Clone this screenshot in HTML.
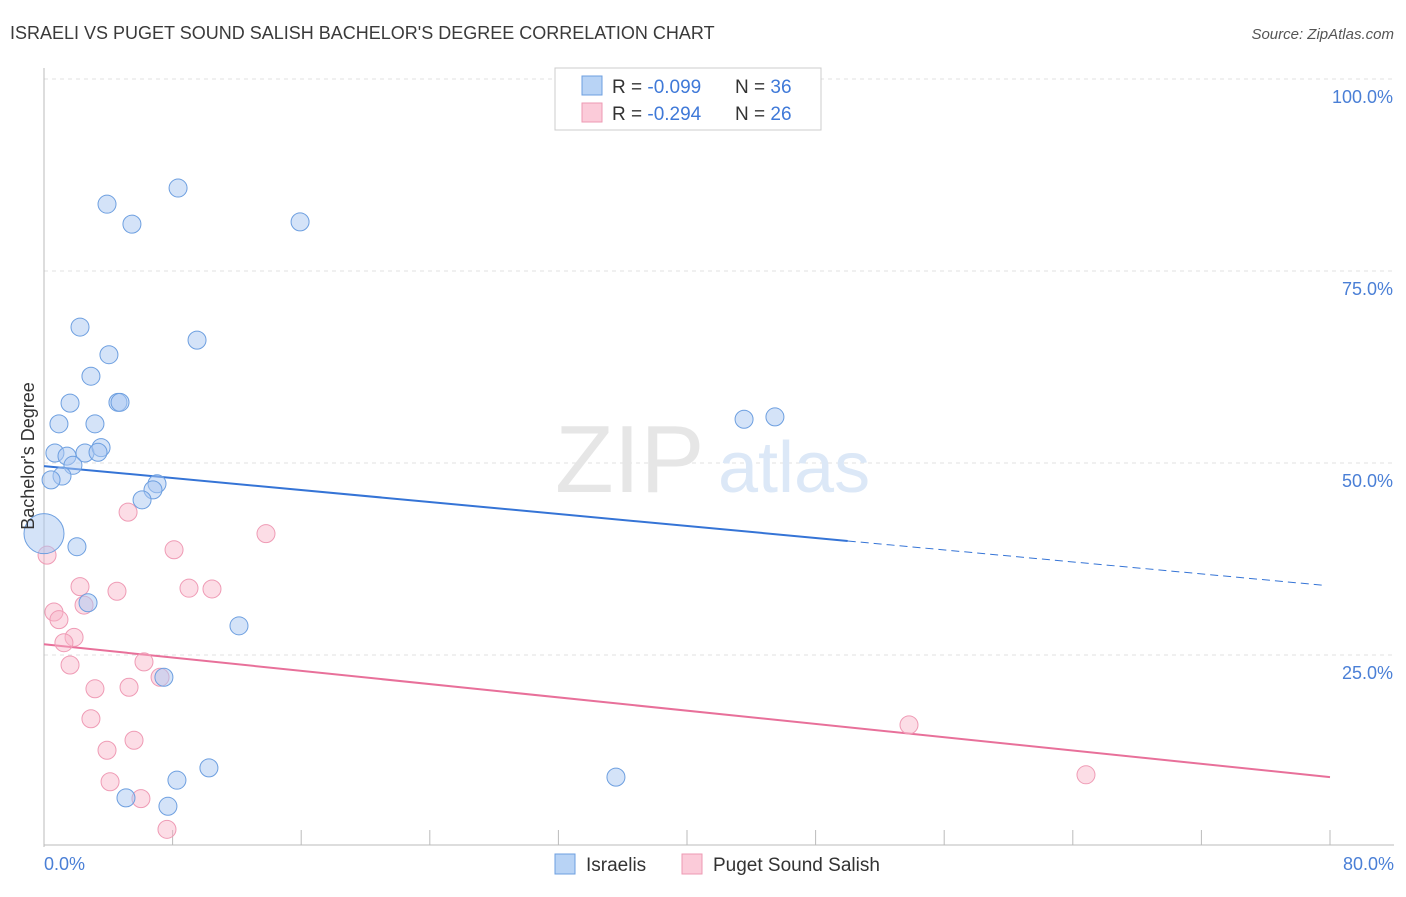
<!DOCTYPE html>
<html><head><meta charset="utf-8"><style>
body{margin:0;background:#fff;font-family:"Liberation Sans",sans-serif;}
svg text{font-family:"Liberation Sans",sans-serif;}
</style></head><body>
<svg id="chart" width="1406" height="892" viewBox="0 0 1406 892" xmlns="http://www.w3.org/2000/svg">
<text x="10" y="39" font-size="18" fill="#3a3a3a">ISRAELI VS PUGET SOUND SALISH BACHELOR'S DEGREE CORRELATION CHART</text>
<text x="1394" y="39" font-size="15" fill="#555" font-style="italic" text-anchor="end">Source: ZipAtlas.com</text>
<g id="grid"></g>
<g><text x="555" y="492" font-size="96" fill="#e6e6e6" font-family="Liberation Serif,serif">ZIP</text><text x="718" y="492" font-size="72" fill="#dce8f7">atlas</text></g>
<line x1="44" y1="68" x2="44" y2="847" stroke="#bbb"/>
<line x1="44" y1="845" x2="1394" y2="845" stroke="#bbb"/>
<g id="ticks"></g>
<g id="lines"></g>
<g id="points"></g>
<text transform="translate(34,456) rotate(-90)" font-size="18" fill="#333" text-anchor="middle">Bachelor's Degree</text>
<text x="44" y="870" font-size="18" fill="#4a7fd6">0.0%</text>
<text x="1394" y="870" font-size="18" fill="#4a7fd6" text-anchor="end">80.0%</text>
<g>
<rect x="555" y="68" width="266" height="62" fill="#fff" stroke="#ccc"/>
<rect x="582" y="76" width="20" height="19" fill="#b8d3f5" stroke="#6d9fe0"/>
<rect x="582" y="103" width="20" height="19" fill="#fbcbd9" stroke="#ee9ab3"/>
<text x="612" y="93" font-size="19" fill="#333">R = <tspan fill="#3f79d8">-0.099</tspan></text>
<text x="735" y="93" font-size="19" fill="#333">N = <tspan fill="#3f79d8">36</tspan></text>
<text x="612" y="120" font-size="19" fill="#333">R = <tspan fill="#3f79d8">-0.294</tspan></text>
<text x="735" y="120" font-size="19" fill="#333">N = <tspan fill="#3f79d8">26</tspan></text>
</g>
<g>
<rect x="555" y="854" width="20" height="20" fill="#b8d3f5" stroke="#6d9fe0"/>
<text x="586" y="871" font-size="19" fill="#333">Israelis</text>
<rect x="682" y="854" width="20" height="20" fill="#fbcbd9" stroke="#ee9ab3"/>
<text x="713" y="871" font-size="19" fill="#333">Puget Sound Salish</text>
</g>
</svg>
<script>
const yTicks=[25,50,75,100];
const yTickLabels=["25.0%","50.0%","75.0%","100.0%"];
const xTicks=[0,8,16,24,32,40,48,56,64,72,80];
const israeliX=[3.92,8.34,5.47,15.93,2.24,9.52,4.04,2.92,1.62,4.60,4.73,0.93,3.17,0.68,1.43,2.55,3.55,3.36,1.80,1.12,0.44,7.03,6.78,6.10,0,2.05,2.74,12.13,7.46,43.55,45.47,35.58,8.27,10.26,5.10,7.71];
const israeliY=[83.7,85.8,81.1,81.4,67.7,66.0,64.1,61.3,57.8,57.9,57.9,55.1,55.1,51.3,50.9,51.3,52.0,51.4,49.7,48.3,47.8,47.3,46.5,45.2,40.8,39.1,31.8,28.8,22.1,55.7,56.0,9.1,8.7,10.3,6.4,5.3];
const israeliR=[9,9,9,9,9,9,9,9,9,9,9,9,9,9,9,9,9,9,9,9,9,9,9,9,20,9,9,9,9,9,9,9,9,9,9,9];
const pugetX=[0.19,5.23,8.09,13.81,2.24,4.54,9.02,10.45,0.62,2.49,0.93,1.87,1.24,6.22,1.62,7.22,3.17,5.29,2.92,3.92,5.60,4.11,6.03,7.65,53.81,64.82];
const pugetY=[38.0,43.6,38.7,40.8,33.9,33.3,33.7,33.6,30.6,31.5,29.6,27.3,26.6,24.1,23.7,22.1,20.6,20.8,16.7,12.6,13.9,8.5,6.3,2.3,15.9,9.4];
const israeliTrend=[49.6,34.0];
const pugetTrend=[26.4,9.1];
const israeliSolidEnd=50;
const sx=v=>44+v*16.075, sy=v=>847-v*7.68;
const NS="http://www.w3.org/2000/svg";
function mk(t,a,p){const e=document.createElementNS(NS,t);for(const k in a)e.setAttribute(k,a[k]);document.getElementById(p).appendChild(e);return e;}
yTicks.forEach((t,i)=>{
 const l=mk('line',{x1:44,x2:1394,y1:sy(t),y2:sy(t),stroke:'#e0e0e0','stroke-dasharray':'4,4'},'grid');
 
 
 const tx=mk('text',{x:1393,y:sy(t)+24,'font-size':18,fill:'#4a7fd6','text-anchor':'end'},'ticks');
 tx.textContent=yTickLabels[i];
 
 
});
xTicks.forEach(t=>{
 const l=mk('line',{x1:sx(t),x2:sx(t),y1:830,y2:845,stroke:'#bbb'},'ticks');
 
 
});
const ty=(tr,x)=>tr[0]+(tr[1]-tr[0])*x/80;
let e=mk('line',{x1:sx(0),y1:sy(israeliTrend[0]),x2:sx(israeliSolidEnd),y2:sy(ty(israeliTrend,israeliSolidEnd)),stroke:'#3574d6','stroke-width':2},'lines');


e=mk('line',{x1:sx(israeliSolidEnd),y1:sy(ty(israeliTrend,israeliSolidEnd)),x2:sx(79.7),y2:sy(ty(israeliTrend,79.7)),stroke:'#3574d6','stroke-width':1,'stroke-dasharray':'8,5'},'lines');


e=mk('line',{x1:sx(0),y1:sy(pugetTrend[0]),x2:sx(80),y2:sy(pugetTrend[1]),stroke:'#e8709a','stroke-width':2},'lines');


pugetX.forEach((x,i)=>{
 const c=mk('circle',{cx:sx(x),cy:sy(pugetY[i]),r:9,fill:'rgba(248,180,200,0.45)',stroke:'#ef9bb5','stroke-width':1},'points');
 
 
});
israeliX.forEach((x,i)=>{
 const c=mk('circle',{cx:sx(x),cy:sy(israeliY[i]),r:israeliR[i],fill:'rgba(170,200,242,0.5)',stroke:'#6d9fe0','stroke-width':1},'points');
 
 
});
</script>
</body></html>
